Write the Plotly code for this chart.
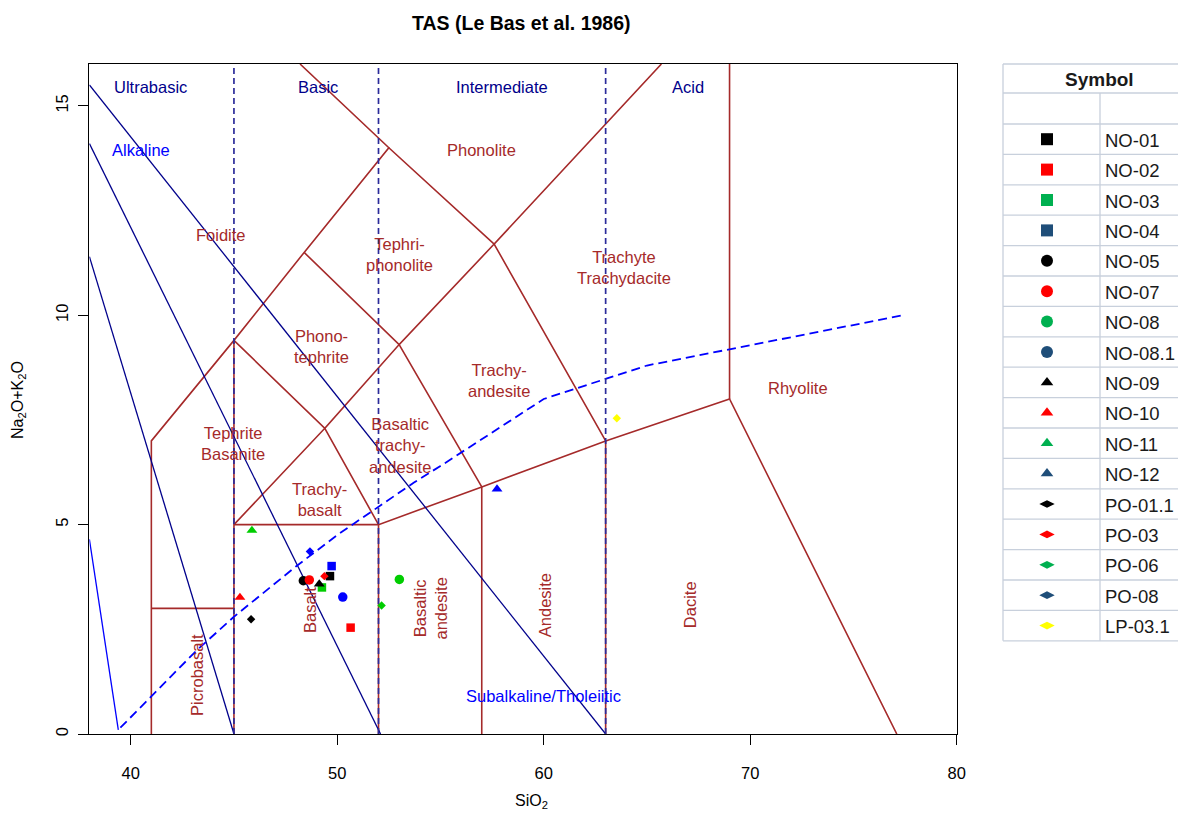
import plotly.graph_objects as go

# page has an 8px body margin: shift every pixel position by OFF
OFF = 8
W, H = 1186 - 2 * OFF, 820 - 2 * OFF
FONT = "Liberation Sans, Arial, sans-serif"

# ---------------- sample data ----------------
samples = ["NO-01", "NO-02", "NO-03", "NO-04", "NO-05", "NO-07", "NO-08", "NO-08.1",
           "NO-09", "NO-10", "NO-11", "NO-12", "PO-01.1", "PO-03", "PO-06", "PO-08", "LP-03.1"]
sio2 = [49.65, 50.65, 49.26, 49.73, 48.36, 48.65, 53.01, 50.27,
        49.13, 45.29, 45.87, 57.74, 45.83, 49.38, 52.15, 48.68, 63.54]
alk = [3.77, 2.54, 3.50, 4.01, 3.66, 3.68, 3.69, 3.27,
       3.58, 3.26, 4.86, 5.85, 2.74, 3.77, 3.07, 4.36, 7.54]
symbols = ["square", "square", "square", "square", "circle", "circle", "circle", "circle",
           "triangle-up", "triangle-up", "triangle-up", "triangle-up",
           "diamond", "diamond", "diamond", "diamond", "diamond"]
plot_colors = ["#000000", "#FF0000", "#00CD00", "#0000FF", "#000000", "#FF0000", "#00CD00", "#0000FF",
               "#000000", "#FF0000", "#00CD00", "#0000FF", "#000000", "#FF0000", "#00CD00", "#0000FF", "#FFFF00"]
table_colors = ["#000000", "#FF0000", "#00B050", "#1F4E79", "#000000", "#FF0000", "#00B050", "#1F4E79",
                "#000000", "#FF0000", "#00B050", "#1F4E79", "#000000", "#FF0000", "#00B050", "#1F4E79", "#FFFF00"]

# ---------------- TAS field boundaries (Le Bas et al. 1986) ----------------
tas_lines = [
    [(41, 0), (41, 7), (45, 9.4), (48.4, 11.5), (52.5, 14), (48.2, 16)],
    [(41, 3), (45, 3)],
    [(45, 0), (45, 9.4)],
    [(45, 5), (52, 5), (57, 5.9), (63, 7), (69, 8), (77.1, 0)],
    [(52, 0), (52, 5)],
    [(57, 0), (57, 5.9)],
    [(63, 0), (63, 7)],
    [(69, 8), (69, 16)],
    [(45, 5), (49.4, 7.3), (52, 5)],
    [(45, 9.4), (49.4, 7.3), (53, 9.3), (57, 5.9)],
    [(48.4, 11.5), (53, 9.3), (57.6, 11.7), (63, 7)],
    [(52.5, 14), (57.6, 11.7), (65.7, 16)],
]
navy_lines = [
    [(38, 15.5), (63, 0)],
    [(38, 14.1), (52.1, 0)],
    [(38, 11.4), (45, 0)],
]
blue_line = [(38, 4.65), (39.4, 0.1)]
irvine_x = [39.5, 40, 43.2, 45, 48, 50, 53.7, 55, 60, 65, 77.4]
irvine_y = [0.15, 0.4, 2, 2.8, 4, 4.75, 6, 6.4, 8, 8.8, 10]
division_x = [45, 52, 63]

field_labels = [
    ("Foidite", 44.37, 11.92, 0), ("Phonolite", 57.0, 13.95, 0),
    ("Tephri-<br>phonolite", 53.0, 11.44, 0), ("Trachyte<br>Trachydacite", 63.89, 11.14, 0),
    ("Phono-<br>tephrite", 49.26, 9.25, 0), ("Trachy-<br>andesite", 57.84, 8.44, 0),
    ("Rhyolite", 72.3, 8.26, 0), ("Tephrite<br>Basanite", 44.95, 6.94, 0),
    ("Basaltic<br>trachy-<br>andesite", 53.04, 6.9, 0), ("Trachy-<br>basalt", 49.12, 5.6, 0),
    ("Picrobasalt", 43.21, 1.41, -90), ("Basalt", 48.68, 2.96, -90),
    ("Basaltic<br>andesite", 54.5, 3.0, -90), ("Andesite", 60.07, 3.08, -90),
    ("Dacite", 67.09, 3.08, -90),
]
class_labels = [("Ultrabasic", 40.98), ("Basic", 49.07), ("Intermediate", 57.98), ("Acid", 66.98)]
series_labels = [("Alkaline", 40.5, 13.95), ("Subalkaline/Tholeiitic", 60.0, 0.91)]

BROWN = "#A52A2A"
NAVY = "#00008B"
BLUE = "#0000FF"

fig = go.Figure()

for pl in tas_lines:
    fig.add_trace(go.Scatter(x=[p[0] for p in pl], y=[p[1] for p in pl], mode="lines",
                             line=dict(color=BROWN, width=1.6), hoverinfo="skip", showlegend=False))
for pl in navy_lines:
    fig.add_trace(go.Scatter(x=[p[0] for p in pl], y=[p[1] for p in pl], mode="lines",
                             line=dict(color=NAVY, width=1.3), hoverinfo="skip", showlegend=False))
fig.add_trace(go.Scatter(x=[p[0] for p in blue_line], y=[p[1] for p in blue_line], mode="lines",
                         line=dict(color=BLUE, width=1.3), hoverinfo="skip", showlegend=False))
fig.add_trace(go.Scatter(x=irvine_x, y=irvine_y, mode="lines",
                         line=dict(color=BLUE, width=1.8, dash="9px,5px"), hoverinfo="skip", showlegend=False))
for xv in division_x:
    fig.add_trace(go.Scatter(x=[xv, xv], y=[0, 16], mode="lines",
                             line=dict(color="#2B2B9A", width=1.7, dash="6px,4px"),
                             hoverinfo="skip", showlegend=False))

plot_sizes = {"square": 8.5, "circle": 9.5, "triangle-up": 9.5, "diamond": 6.5}
for i, s in enumerate(samples):
    fig.add_trace(go.Scatter(x=[sio2[i]], y=[alk[i]], mode="markers", name=s,
                             marker=dict(symbol=symbols[i], color=plot_colors[i],
                                         size=plot_sizes[symbols[i]], line=dict(width=0)),
                             showlegend=False))

annotations = []
for txt, x, y, ang in field_labels:
    annotations.append(dict(x=x, y=y, xref="x", yref="y", text=txt, showarrow=False, textangle=ang,
                            font=dict(family=FONT, size=16.5, color=BROWN)))
for txt, x in class_labels:
    annotations.append(dict(x=x, y=15.45, xref="x", yref="y", text=txt, showarrow=False,
                            font=dict(family=FONT, size=16.5, color=NAVY)))
for txt, x, y in series_labels:
    annotations.append(dict(x=x, y=y, xref="x", yref="y", text=txt, showarrow=False,
                            font=dict(family=FONT, size=16.5, color=BLUE)))


def px(v):
    return v - OFF


# title and axis titles (pixel coordinates on overlay axes)
annotations.append(dict(x=px(521), y=px(23), xref="x2", yref="y2", text="<b>TAS (Le Bas et al. 1986)</b>",
                        showarrow=False, font=dict(family=FONT, size=19.5, color="#000")))
annotations.append(dict(x=px(531), y=px(801), xref="x2", yref="y2", text="SiO<sub>2</sub>",
                        showarrow=False, font=dict(family=FONT, size=16, color="#000")))
annotations.append(dict(x=px(18), y=px(400), xref="x2", yref="y2", text="Na<sub>2</sub>O+K<sub>2</sub>O",
                        textangle=-90, showarrow=False, font=dict(family=FONT, size=16, color="#000")))

# ---------------- symbol table ----------------
T_LEFT, T_RIGHT, T_TOP, T_HEAD, T_BLANK = 1003, 1186, 64, 93, 124
ROW_H = 30.4
DIV_X = 1100
GRID = "#C8D0DC"
shapes = []
n = len(samples)
t_bottom = T_BLANK + ROW_H * n
hlines = [T_TOP, T_HEAD, T_BLANK] + [T_BLANK + ROW_H * (i + 1) for i in range(n)]
for yv in hlines:
    shapes.append(dict(type="line", xref="x2", yref="y2", x0=px(T_LEFT), x1=px(T_RIGHT), y0=px(yv), y1=px(yv),
                       line=dict(color=GRID, width=1.3)))
shapes.append(dict(type="line", xref="x2", yref="y2", x0=px(T_LEFT), x1=px(T_LEFT), y0=px(T_TOP), y1=px(t_bottom),
                   line=dict(color=GRID, width=1.3)))
shapes.append(dict(type="line", xref="x2", yref="y2", x0=px(DIV_X), x1=px(DIV_X), y0=px(T_HEAD), y1=px(t_bottom),
                   line=dict(color=GRID, width=1.3)))
annotations.append(dict(x=px(1099), y=px((T_TOP + T_HEAD) / 2 + 1), xref="x2", yref="y2", text="<b>Symbol</b>",
                        showarrow=False, font=dict(family=FONT, size=19, color="#1A1A1A")))
table_sizes = {"square": 12, "circle": 12, "triangle-up": 11, "diamond": 11}
table_syms = {"square": "square", "circle": "circle", "triangle-up": "triangle-up", "diamond": "diamond-wide"}
for i, s in enumerate(samples):
    yc = T_BLANK + ROW_H * i + ROW_H / 2
    fig.add_trace(go.Scatter(x=[px(1047)], y=[px(yc)], xaxis="x2", yaxis="y2", mode="markers",
                             marker=dict(symbol=table_syms[symbols[i]], color=table_colors[i],
                                         size=table_sizes[symbols[i]], line=dict(width=0)),
                             hoverinfo="skip", showlegend=False))
    annotations.append(dict(x=px(1103), y=px(yc + 1), xref="x2", yref="y2", text=s, xanchor="left",
                            showarrow=False, font=dict(family=FONT, size=18.5, color="#1A1A1A")))

PL, PR, PT, PB = px(89.4), px(956.7), px(64), px(734)
fig.update_layout(
    width=W, height=H, margin=dict(l=0, r=0, t=0, b=0),
    paper_bgcolor="white", plot_bgcolor="rgba(0,0,0,0)",
    showlegend=False,
    xaxis=dict(domain=[PL / W, PR / W], range=[38, 80], tickvals=[40, 50, 60, 70, 80],
               ticks="outside", ticklen=10, tickcolor="#000", showline=True, mirror=True,
               linecolor="#000", linewidth=1.2, showgrid=False, zeroline=False, automargin=False,
               tickfont=dict(family=FONT, size=16.5, color="#000"), ticklabelstandoff=14),
    yaxis=dict(domain=[1 - PB / H, 1 - PT / H], range=[0, 16], tickvals=[0, 5, 10, 15],
               ticks="outside", ticklen=10, tickcolor="#000", showline=True, mirror=True,
               linecolor="#000", linewidth=1.2, showgrid=False, zeroline=False, automargin=False,
               tickangle=-90, tickfont=dict(family=FONT, size=16.5, color="#000"), ticklabelstandoff=4),
    xaxis2=dict(domain=[0, 1], range=[0, W], visible=False, anchor="y2", fixedrange=True),
    yaxis2=dict(domain=[0, 1], range=[H, 0], visible=False, anchor="x2", fixedrange=True),
    annotations=annotations, shapes=shapes,
)

fig.write_html("out.html")
